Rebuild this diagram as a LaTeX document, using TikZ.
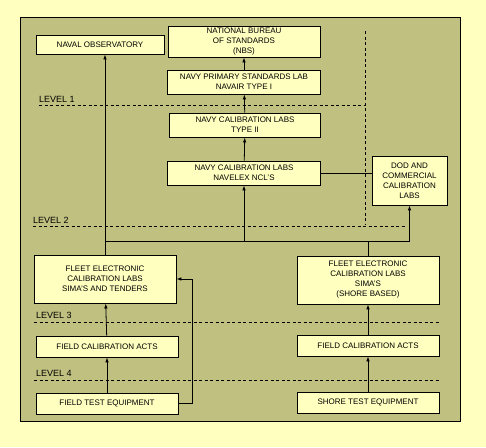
\documentclass[tikz,border=0pt]{standalone}
\usepackage{fontspec}
\setmainfont{Liberation Sans}
\usetikzlibrary{arrows.meta}
\definecolor{paper}{RGB}{255,255,192}
\definecolor{olive}{RGB}{192,192,128}
\tikzstyle{box} = [draw, fill=paper, line width=0.8pt, align=center, inner sep=1pt, font=\fontsize{8}{10}\selectfont]
\tikzstyle{link} = [line width=0.8pt]
\tikzstyle{arr} = [line width=0.8pt, -{Latex[length=5pt,width=3.5pt]}]
\tikzstyle{level} = [line width=0.7pt, dash pattern=on 3pt off 2.5pt]
\tikzstyle{lab} = [anchor=base west, inner sep=0pt, font=\fontsize{9}{10}\selectfont]

\begin{document}
\begin{tikzpicture}[x=1pt,y=-1pt]
    \useasboundingbox (0,0) rectangle (486,447);
    \fill[paper] (0,0) rectangle (486,447);
    \draw[fill=olive, line width=0.8pt] (20,17) rectangle (460,421);
    % level lines
    \draw[level] (39,105) -- (365,105);
    \draw[level] (365,31) -- (365,224);
    \draw[level] (33,226) -- (406,226);
    \draw[level] (34,322) -- (440,322);
    \draw[level] (34,380) -- (440,380);
    \node[lab] (lev1) at (39,102) {LEVEL 1};
    \node[lab] (lev2) at (33,223) {LEVEL 2};
    \node[lab] (lev3) at (36,318) {LEVEL 3};
    \node[lab] (lev4) at (36,376) {LEVEL 4};
    % boxes
    \node[box, minimum width=128pt, minimum height=19pt] (obs) at (100,44.5) {NAVAL OBSERVATORY};
    \node[box, minimum width=152pt, minimum height=31pt] (nbs) at (244,41.5) {NATIONAL BUREAU\\OF STANDARDS\\(NBS)};
    \node[box, minimum width=153pt, minimum height=24pt] (prim) at (244,82) {NAVY PRIMARY STANDARDS LAB\\NAVAIR TYPE I};
    \node[box, minimum width=151pt, minimum height=24pt] (type2) at (245,125) {NAVY CALIBRATION LABS\\TYPE II};
    \node[box, minimum width=153pt, minimum height=24pt] (ncl) at (244,173) {NAVY CALIBRATION LABS\\NAVELEX NCL'S};
    \node[box, minimum width=75pt, minimum height=49pt] (dod) at (409.5,180.5) {DOD AND\\COMMERCIAL\\CALIBRATION\\LABS};
    \node[box, minimum width=142pt, minimum height=48pt] (fecL) at (105,279) {FLEET ELECTRONIC\\CALIBRATION LABS\\SIMA'S AND TENDERS};
    \node[box, minimum width=142pt, minimum height=48pt] (fecR) at (368,280) {FLEET ELECTRONIC\\CALIBRATION LABS\\SIMA'S\\(SHORE BASED)};
    \node[box, minimum width=142pt, minimum height=21pt] (fcaL) at (107,346.5) {FIELD CALIBRATION ACTS};
    \node[box, minimum width=142pt, minimum height=21pt] (fcaR) at (368,345.5) {FIELD CALIBRATION ACTS};
    \node[box, minimum width=142pt, minimum height=21pt] (fteL) at (107,403.5) {FIELD TEST EQUIPMENT};
    \node[box, minimum width=142pt, minimum height=21pt] (steR) at (368,402.5) {SHORE TEST EQUIPMENT};
    \coordinate (bus) at (0,241);
    \coordinate (bend) at (192,0);
    % connectors
    \draw[arr] (prim) -- (nbs);
    \draw[arr] (type2) -- (prim);
    \draw[arr] (ncl) -- (type2);
    \draw[link] (ncl.east) -- (dod.west |- ncl.east);
    \draw[arr] (fecL.north) -- (fecL.north |- obs.south);
    \draw[link] (fecL.north |- bus) -- (dod.south |- bus);
    \draw[arr] (ncl.south |- bus) -- (ncl.south);
    \draw[arr] (dod.south |- bus) -- (dod.south);
    \draw[link] (fecR.north) -- (fecR.north |- bus);
    \draw[arr] (fcaL) -- (fecL);
    \draw[arr] (fteL) -- (fcaL);
    \draw[arr] (fcaR) -- (fecR);
    \draw[arr] (steR) -- (fcaR);
    \draw[arr] (fteL.east) -- (fteL.east -| bend) |- (fecL.east);
\end{tikzpicture}
\end{document}
